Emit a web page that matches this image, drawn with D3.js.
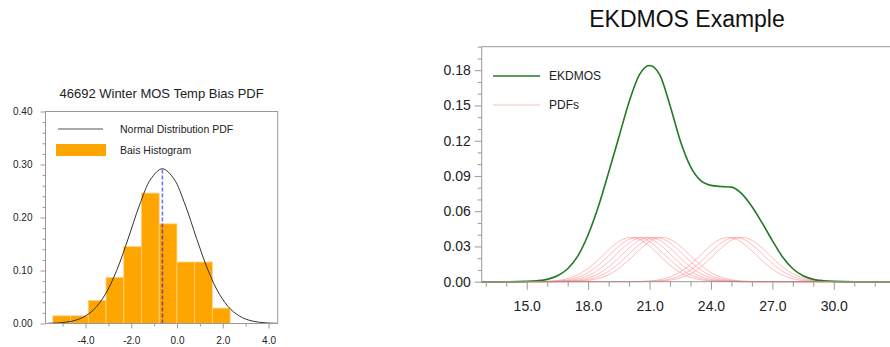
<!DOCTYPE html>
<html><head><meta charset="utf-8">
<script src="https://cdn.jsdelivr.net/npm/d3@7"></script>
<style>html,body{margin:0;padding:0;background:#fff;}svg{display:block;font-family:"Liberation Sans",Arial,Helvetica,sans-serif;}</style>
</head><body><svg id="c" width="890" height="347"></svg>
<script>
// ---------- Left chart data ----------
const leftTitle = "46692 Winter MOS Temp Bias PDF";
const histEdges = [-5.43, -4.655, -3.88, -3.105, -2.33, -1.555, -0.78, -0.005, 0.77, 1.545, 2.32];
const histFreq = [0.0145, 0.0145, 0.0435, 0.087, 0.145, 0.246, 0.188, 0.116, 0.116, 0.029];
const normX = [-5.64, -5.14, -4.64, -4.14, -3.64, -3.14, -2.64, -2.14, -1.64, -1.14, -0.64, -0.14, 0.36, 0.86, 1.36, 1.86, 2.36, 2.86, 3.36, 3.86, 4.36];
const normY = [0.0004, 0.0013, 0.0040, 0.0110, 0.0262, 0.0547, 0.1000, 0.1598, 0.2234, 0.2731, 0.292, 0.2731, 0.2234, 0.1598, 0.1000, 0.0547, 0.0262, 0.0110, 0.0040, 0.0013, 0.0004];
const biasMean = -0.64;
const biasMeanPeak = 0.292;
const leftXTicks = [-4, -2, 0, 2, 4];
const leftYTicks = [0, 0.1, 0.2, 0.3, 0.4];
const leftLegend = ["Normal Distribution PDF", "Bais Histogram"];

// ---------- Right chart data ----------
const rightTitle = "EKDMOS Example";
const ekdX = [12.8, 14.0, 15.0, 15.5, 16.0, 16.5, 17.0, 17.5, 18.0, 18.5, 19.0, 19.5, 20.0, 20.5, 21.0, 21.5, 22.0, 22.5, 23.0, 23.5, 24.0, 24.5, 25.0, 25.5, 26.0, 26.5, 27.0, 27.5, 28.0, 28.5, 29.0, 29.5, 30.0, 31.0, 33.0];
const ekdY = [0, 0, 0.0003, 0.0008, 0.002, 0.005, 0.011, 0.022, 0.040, 0.064, 0.093, 0.123, 0.153, 0.176, 0.184, 0.176, 0.150, 0.120, 0.098, 0.086, 0.082, 0.081, 0.0805, 0.075, 0.064, 0.050, 0.035, 0.021, 0.011, 0.005, 0.002, 0.0008, 0.0003, 0, 0];
const pdfCenters = [20.1, 20.4, 20.7, 21.0, 21.3, 21.6, 24.85, 25.2, 25.5];
const pdfOffsets = [-5, -4.5, -4, -3.5, -3, -2.5, -2, -1.5, -1, -0.5, 0, 0.5, 1, 1.5, 2, 2.5, 3, 3.5, 4, 4.5, 5];
const pdfShape = [0.00004, 0.00015, 0.00047, 0.0013, 0.0032, 0.0068, 0.0126, 0.0203, 0.0287, 0.0352, 0.0377, 0.0352, 0.0287, 0.0203, 0.0126, 0.0068, 0.0032, 0.0013, 0.00047, 0.00015, 0.00004];
const rightXTicks = [15, 18, 21, 24, 27, 30];
const rightYTicks = [0, 0.03, 0.06, 0.09, 0.12, 0.15, 0.18];
const rightLegend = ["EKDMOS", "PDFs"];

const svg = d3.select("#c");
svg.append("rect").attr("width", 890).attr("height", 347).attr("fill", "#fff");
const axisCol = "#999", textCol = "#222";

function styleAxis(g) {
  g.select(".domain").remove();
  g.selectAll(".tick line").attr("stroke", axisCol);
  g.selectAll(".tick text").attr("fill", textCol);
}

// ================= LEFT =================
{
  const L = 45.5, R = 277.7, T = 111.5, B = 323.5;
  const x = d3.scaleLinear().domain([-5.75, 4.4]).range([L, R]);
  const y = d3.scaleLinear().domain([0, 0.4]).range([B, T]);
  const g = svg.append("g");

  g.append("text").attr("x", (L + R) / 2).attr("y", 97.5).attr("text-anchor", "middle")
    .attr("font-size", 13).attr("fill", textCol).text(leftTitle);

  g.selectAll("rect.bar").data(histFreq).join("rect").attr("class", "bar")
    .attr("x", (d, i) => x(histEdges[i]))
    .attr("width", (d, i) => x(histEdges[i + 1]) - x(histEdges[i]))
    .attr("y", d => y(d)).attr("height", d => y(0) - y(d))
    .attr("fill", "#FFA500").attr("stroke", "#ffd27f").attr("stroke-width", 0.8);

  const line = d3.line().x(d => x(d[0])).y(d => y(d[1])).curve(d3.curveCatmullRom);
  g.append("path").attr("d", line(normX.map((v, i) => [v, normY[i]])))
    .attr("fill", "none").attr("stroke", "#333").attr("stroke-width", 1);

  g.append("line").attr("x1", x(biasMean)).attr("x2", x(biasMean))
    .attr("y1", y(0)).attr("y2", y(biasMeanPeak))
    .attr("stroke", "blue").attr("stroke-opacity", 0.55).attr("stroke-width", 1.6).attr("stroke-dasharray", "4,2");

  const gx = g.append("g").attr("transform", `translate(0,${B})`)
    .call(d3.axisBottom(x).tickValues(leftXTicks).tickSize(5).tickPadding(8).tickFormat(d => d.toFixed(1)));
  gx.selectAll("text").attr("font-size", 10);
  styleAxis(gx);
  const gxm = g.append("g").attr("transform", `translate(0,${B})`)
    .call(d3.axisBottom(x).tickValues(d3.range(-5, 5, 1).filter(v => !leftXTicks.includes(v))).tickSize(3).tickFormat(""));
  styleAxis(gxm);

  const gy = g.append("g").attr("transform", `translate(${L},0)`)
    .call(d3.axisLeft(y).tickValues(leftYTicks).tickSize(5).tickPadding(8).tickFormat(d => d.toFixed(2)));
  gy.selectAll("text").attr("font-size", 10);
  styleAxis(gy);
  const gym = g.append("g").attr("transform", `translate(${L},0)`)
    .call(d3.axisLeft(y).tickValues(d3.range(0, 0.401, 0.02).filter(v => Math.abs(v * 10 - Math.round(v * 10)) > 1e-6)).tickSize(3).tickFormat(""));
  styleAxis(gym);

  g.append("rect").attr("x", L).attr("y", T).attr("width", R - L).attr("height", B - T)
    .attr("fill", "none").attr("stroke", axisCol).attr("stroke-width", 1);

  g.append("line").attr("x1", 58).attr("x2", 103).attr("y1", 129).attr("y2", 129)
    .attr("stroke", "#555").attr("stroke-width", 1);
  g.append("text").attr("x", 120).attr("y", 129).attr("dy", "0.35em").attr("font-size", 10.5)
    .attr("fill", textCol).text(leftLegend[0]);
  g.append("rect").attr("x", 56).attr("y", 144).attr("width", 50).attr("height", 12).attr("fill", "#FFA500");
  g.append("text").attr("x", 120).attr("y", 150).attr("dy", "0.35em").attr("font-size", 10.5)
    .attr("fill", textCol).text(leftLegend[1]);
}

// ================= RIGHT =================
{
  const L = 481.7, T = 46.7, B = 281.7;
  const x = d3.scaleLinear().domain([12.8, 33.0]).range([L, L + 20.2 * 20.47]);
  const y = d3.scaleLinear().domain([0, 0.2]).range([B, T]);
  const g = svg.append("g");

  g.append("text").attr("x", 687).attr("y", 26.5).attr("text-anchor", "middle")
    .attr("font-size", 23).attr("fill", "#111").text(rightTitle);

  const lineR = d3.line().x(d => x(d[0])).y(d => y(d[1])).curve(d3.curveMonotoneX);
  pdfCenters.forEach(c => {
    const pts = [[12.8, 0]].concat(pdfOffsets.map((o, i) => [c + o, pdfShape[i]])).concat([[33, 0]]);
    g.append("path").attr("d", lineR(pts)).attr("fill", "none")
      .attr("stroke", "#ff4040").attr("stroke-opacity", 0.5).attr("stroke-width", 0.7);
  });
  g.append("path").attr("d", lineR(ekdX.map((v, i) => [v, ekdY[i]])))
    .attr("fill", "none").attr("stroke", "#237a23").attr("stroke-width", 1.6);

  const gx = g.append("g").attr("transform", `translate(0,${B})`)
    .call(d3.axisBottom(x).tickValues(rightXTicks).tickSize(8).tickPadding(11).tickFormat(d => d.toFixed(1)));
  gx.selectAll("text").attr("font-size", 14);
  styleAxis(gx);
  const gxm = g.append("g").attr("transform", `translate(0,${B})`)
    .call(d3.axisBottom(x).tickValues(d3.range(13, 34, 1).filter(v => !rightXTicks.includes(v))).tickSize(5).tickFormat(""));
  styleAxis(gxm);

  const gy = g.append("g").attr("transform", `translate(${L},0)`)
    .call(d3.axisLeft(y).tickValues(rightYTicks).tickSize(7).tickPadding(4).tickFormat(d => d.toFixed(2)));
  gy.selectAll("text").attr("font-size", 14);
  styleAxis(gy);
  const gym = g.append("g").attr("transform", `translate(${L},0)`)
    .call(d3.axisLeft(y).tickValues(d3.range(0.01, 0.201, 0.01).filter(v => Math.abs(v / 0.03 - Math.round(v / 0.03)) > 1e-6)).tickSize(4).tickFormat(""));
  styleAxis(gym);

  g.append("rect").attr("x", L).attr("y", T).attr("width", x(33) - L).attr("height", B - T)
    .attr("fill", "none").attr("stroke", axisCol).attr("stroke-width", 1);

  g.append("line").attr("x1", 493).attr("x2", 540).attr("y1", 76).attr("y2", 76)
    .attr("stroke", "#237a23").attr("stroke-width", 1.6);
  g.append("text").attr("x", 549).attr("y", 76).attr("dy", "0.35em").attr("font-size", 12)
    .attr("fill", textCol).text(rightLegend[0]);
  g.append("line").attr("x1", 493).attr("x2", 540).attr("y1", 105).attr("y2", 105)
    .attr("stroke", "#ff4040").attr("stroke-opacity", 0.5).attr("stroke-width", 0.7);
  g.append("text").attr("x", 549).attr("y", 105).attr("dy", "0.35em").attr("font-size", 12)
    .attr("fill", textCol).text(rightLegend[1]);
}
</script></body></html>
